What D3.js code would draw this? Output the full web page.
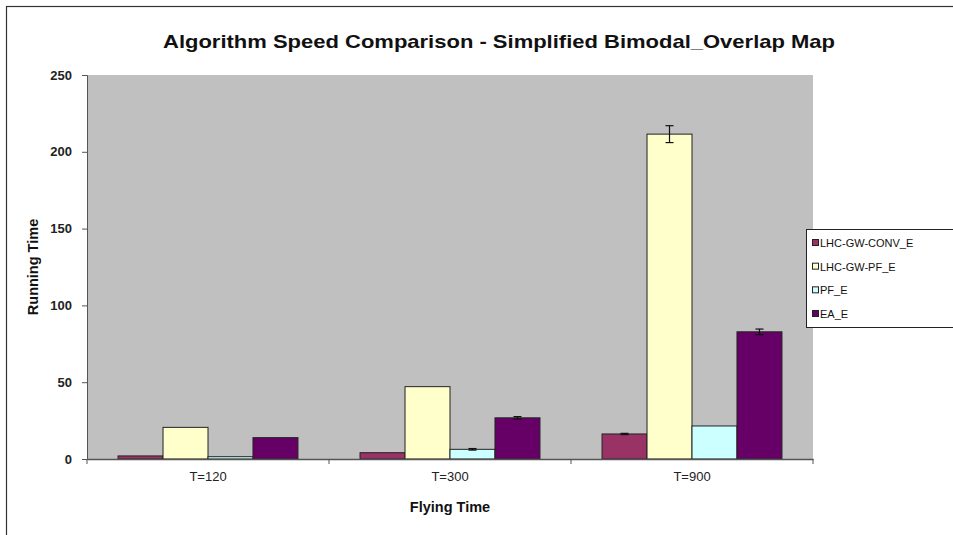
<!DOCTYPE html>
<html>
<head>
<meta charset="utf-8">
<script src="https://cdn.jsdelivr.net/npm/d3@7"></script>
<style>
  html, body { margin: 0; padding: 0; background: #fff; }
  svg { display: block; font-family: "Liberation Sans", Arial, sans-serif; }
</style>
</head>
<body>
<svg id="chart" width="953" height="535"></svg>
<script>
const categories = ["T=120", "T=300", "T=900"];
const seriesNames = ["LHC-GW-CONV_E", "LHC-GW-PF_E", "PF_E", "EA_E"];
const seriesColors = ["#993366", "#FFFFCC", "#CCFFFF", "#660066"];
const convValues = [2.0, 4.1, 16.3];
const gwpfValues = [20.6, 47.1, 211.5];
const pfValues = [1.5, 6.3, 21.5];
const eaValues = [13.9, 26.8, 82.8];
const convErr = [0, 0, 0.4];
const gwpfErr = [0, 0, 5.5];
const pfErr = [0, 0.5, 0];
const eaErr = [0, 0.8, 1.8];
const yTicks = [0, 50, 100, 150, 200, 250];
const titleText = "Algorithm Speed Comparison - Simplified Bimodal_Overlap Map";
const xTitle = "Flying Time";
const yTitle = "Running Time";

const seriesValues = [convValues, gwpfValues, pfValues, eaValues];
const seriesErr = [convErr, gwpfErr, pfErr, eaErr];

const svg = d3.select("#chart");

// outer chart frame
svg.append("rect").attr("x", 6.5).attr("y", 6.5).attr("width", 970).attr("height", 560)
  .attr("fill", "#fff").attr("stroke", "#333").attr("stroke-width", 1.2);

const plot = { left: 87, right: 813, top: 75, bottom: 459 };

const x0 = d3.scaleBand().domain(categories).range([plot.left, plot.right]).paddingInner(0).paddingOuter(0);
const x1 = d3.scaleBand().domain(seriesNames).range([0, x0.bandwidth()]).paddingInner(0).paddingOuter(0.69);
const y = d3.scaleLinear().domain([0, 250]).range([plot.bottom, plot.top]);

// plot background
svg.append("rect").attr("x", plot.left).attr("y", plot.top)
  .attr("width", plot.right - plot.left).attr("height", plot.bottom - plot.top)
  .attr("fill", "#C0C0C0");

// bars
const data = [];
categories.forEach((c, ci) => {
  seriesNames.forEach((s, si) => {
    data.push({ cat: c, series: s, si, value: seriesValues[si][ci], err: seriesErr[si][ci] });
  });
});

svg.append("g").selectAll("rect").data(data).join("rect")
  .attr("x", d => x0(d.cat) + x1(d.series))
  .attr("y", d => y(d.value))
  .attr("width", x1.bandwidth())
  .attr("height", d => y(0) - y(d.value))
  .attr("fill", d => seriesColors[d.si])
  .attr("stroke", "#222").attr("stroke-width", 1);

// error bars
const eb = svg.append("g").attr("stroke", "#111").attr("stroke-width", 1.2);
data.filter(d => d.err > 0).forEach(d => {
  const cx = x0(d.cat) + x1(d.series) + x1.bandwidth() / 2;
  const y1 = y(d.value + d.err), y2 = y(d.value - d.err);
  eb.append("line").attr("x1", cx).attr("x2", cx).attr("y1", y1).attr("y2", y2);
  eb.append("line").attr("x1", cx - 4).attr("x2", cx + 4).attr("y1", y1).attr("y2", y1);
  eb.append("line").attr("x1", cx - 4).attr("x2", cx + 4).attr("y1", y2).attr("y2", y2);
});

// y axis
const yAxis = d3.axisLeft(y).tickValues(yTicks).tickSize(5).tickPadding(10);
const gy = svg.append("g").attr("transform", `translate(${plot.left},0)`).call(yAxis);
gy.select(".domain").attr("stroke", "#555");
gy.selectAll(".tick line").attr("stroke", "#555");
gy.selectAll("text").attr("font-size", 13).attr("font-weight", "bold").attr("fill", "#222");

// x axis
const xAxis = d3.axisBottom(x0).tickSize(0).tickPadding(13);
const gx = svg.append("g").attr("transform", `translate(0,${plot.bottom})`).call(xAxis);
gx.select(".domain").attr("stroke", "#555").attr("stroke-width", 1.5);
gx.selectAll("text").attr("font-size", 13).attr("fill", "#222");
// category boundary ticks
const bounds = categories.map(c => x0(c)).concat([plot.right]);
gx.selectAll(".bnd").data(bounds).join("line").attr("class", "bnd")
  .attr("x1", d => d).attr("x2", d => d).attr("y1", 0).attr("y2", 5)
  .attr("stroke", "#555");

// titles
svg.append("text").attr("x", 499).attr("y", 48).attr("text-anchor", "middle")
  .attr("font-size", 19).attr("font-weight", "bold").attr("fill", "#111")
  .attr("textLength", 672).attr("lengthAdjust", "spacingAndGlyphs")
  .text(titleText);

svg.append("text").attr("x", 450).attr("y", 512).attr("text-anchor", "middle")
  .attr("font-size", 14.5).attr("font-weight", "bold").attr("fill", "#111")
  .text(xTitle);

svg.append("text").attr("transform", "translate(38,267) rotate(-90)").attr("text-anchor", "middle")
  .attr("font-size", 14.5).attr("font-weight", "bold").attr("fill", "#111")
  .text(yTitle);

// legend
const lg = svg.append("g");
lg.append("rect").attr("x", 806.5).attr("y", 229.5).attr("width", 160).attr("height", 98)
  .attr("fill", "#fff").attr("stroke", "#222").attr("stroke-width", 1);
const ly = d3.scalePoint().domain(seriesNames).range([243, 314]);
seriesNames.forEach((s, i) => {
  lg.append("rect").attr("x", 812.5).attr("y", ly(s) - 3.5).attr("width", 6).attr("height", 6)
    .attr("fill", seriesColors[i]).attr("stroke", "#222").attr("stroke-width", 1);
  lg.append("text").attr("x", 820).attr("y", ly(s) + 4).attr("font-size", 11).attr("fill", "#111")
    .text(s);
});
</script>
</body>
</html>
